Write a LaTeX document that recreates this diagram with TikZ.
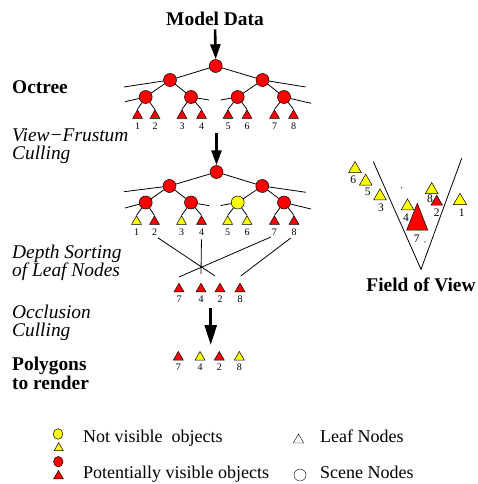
\documentclass[tikz,border=0pt]{standalone}
\usepackage{fontspec}
\setmainfont{Liberation Serif}
\usetikzlibrary{shapes.geometric,arrows.meta,backgrounds}
\definecolor{myred}{RGB}{255,0,0}
\definecolor{myyellow}{RGB}{255,255,0}
\begin{document}
\begin{tikzpicture}[x=1pt,y=-1pt,
  scn/.style={circle,draw=black,line width=0.5pt,minimum size=13pt,inner sep=0pt},
  rn/.style={scn,fill=myred},
  yn/.style={scn,fill=myyellow},
  leafbox/.style={regular polygon,regular polygon sides=3,draw=black,line width=0.5pt,inner sep=0pt,minimum size=11.5pt},
  rl/.style={leafbox,fill=myred},
  yl/.style={leafbox,fill=myyellow},
  fy/.style={leafbox,fill=myyellow,minimum size=14.6pt},
  lbl/.style={font=\fontsize{10}{11}\selectfont,inner sep=0pt},
  flbl/.style={font=\fontsize{11.5}{12}\selectfont,inner sep=0pt},
  br/.style={line width=0.8pt},
  ttl/.style={font=\fontsize{19.4}{22}\selectfont\bfseries,inner sep=0pt,anchor=base west},
  itl/.style={font=\fontsize{19.4}{22}\selectfont\itshape,inner sep=0pt,anchor=base west},
  leg/.style={font=\fontsize{18}{20}\selectfont,inner sep=0pt,anchor=base west},
  bigarrow/.style={line width=2.6pt,-{Triangle[length=15pt,width=10pt]}}
]
\useasboundingbox (0,0) rectangle (478,484);

% ---------- left labels ----------
\node[ttl] (tOct) at (12,93.3) {Octree};
\node[itl] (tVF1) at (12,141) {View−Frustum};
\node[itl] (tVF2) at (12,159.5) {Culling};
\node[itl] (tDS1) at (12,258.3) {Depth Sorting};
\node[itl] (tDS2) at (12,276.7) {of Leaf Nodes};
\node[itl] (tOC1) at (12,318.3) {Occlusion};
\node[itl] (tOC2) at (12,336) {Culling};
\node[ttl] (tPR1) at (12,370.7) {Polygons};
\node[ttl] (tPR2) at (12,389.3) {to render};

% ---------- title ----------
\node[ttl,anchor=base] (md) at (215,26) {Model Data};

% ---------- tree 1 ----------
\node[rn] (r1) at (215.7,66) {};
\node[rn] (a1) at (170,80) {};
\node[rn] (b1) at (262.5,80) {};
\node[rn] (a1l) at (145.7,97) {};
\node[rn] (a1r) at (191,97) {};
\node[rn] (b1l) at (237.7,97) {};
\node[rn] (b1r) at (284,97) {};
\foreach \i/\x in {1/137.5,2/155,3/182,4/201.5,5/228,6/247,7/274.5,8/293.5}{
  \node[rl] (t1n\i) at (\x,115.6) {};
  \node[lbl] (t1l\i) at (\x,126.5) {\i};
}
\coordinate (x1a) at (124,87);
\coordinate (x1b) at (305.7,87);
\coordinate (x1c) at (125,101.7);
\coordinate (x1d) at (209,100);
\coordinate (x1e) at (220.7,100);
\coordinate (x1f) at (311,103.3);

% ---------- tree 2 ----------
\node[rn] (r2) at (216.5,172) {};
\node[rn] (a2) at (169.5,186) {};
\node[rn] (b2) at (262.3,186) {};
\node[rn] (a2l) at (145.7,202.5) {};
\node[rn] (a2r) at (191,202.5) {};
\node[yn] (b2l) at (237.7,202.5) {};
\node[rn] (b2r) at (284,202.5) {};
\foreach \i/\x/\c in {1/136.5/yl,2/154.5/rl,3/181.5/yl,4/201.5/rl,5/227.7/yl,6/247/yl,7/274.4/rl,8/294/rl}{
  \node[\c] (t2n\i) at (\x,221.6) {};
  \node[lbl] (t2l\i) at (\x,232) {\i};
}
\coordinate (x2a) at (124,191.7);
\coordinate (x2b) at (306,192.3);
\coordinate (x2c) at (125,208);
\coordinate (x2d) at (209.3,205.7);
\coordinate (x2e) at (220.7,205.5);
\coordinate (x2f) at (311,209);

\begin{scope}[on background layer]
  \draw[br] (r1) -- (a1);  \draw[br] (r1) -- (b1);
  \draw[br] (a1) -- (a1l); \draw[br] (a1) -- (a1r);
  \draw[br] (b1) -- (b1l); \draw[br] (b1) -- (b1r);
  \draw[br] (a1) -- (x1a); \draw[br] (b1) -- (x1b);
  \draw[br] (a1l) -- (x1c); \draw[br] (a1r) -- (x1d);
  \draw[br] (b1l) -- (x1e); \draw[br] (b1r) -- (x1f);
  \draw[br] (a1l) -- (t1n1.corner 1); \draw[br] (a1l) -- (t1n2.corner 1);
  \draw[br] (a1r) -- (t1n3.corner 1); \draw[br] (a1r) -- (t1n4.corner 1);
  \draw[br] (b1l) -- (t1n5.corner 1); \draw[br] (b1l) -- (t1n6.corner 1);
  \draw[br] (b1r) -- (t1n7.corner 1); \draw[br] (b1r) -- (t1n8.corner 1);

  \draw[br] (r2) -- (a2);  \draw[br] (r2) -- (b2);
  \draw[br] (a2) -- (a2l); \draw[br] (a2) -- (a2r);
  \draw[br] (b2) -- (b2l); \draw[br] (b2) -- (b2r);
  \draw[br] (a2) -- (x2a); \draw[br] (b2) -- (x2b);
  \draw[br] (a2l) -- (x2c); \draw[br] (a2r) -- (x2d);
  \draw[br] (b2l) -- (x2e); \draw[br] (b2r) -- (x2f);
  \draw[br] (a2l) -- (t2n1.corner 1); \draw[br] (a2l) -- (t2n2.corner 1);
  \draw[br] (a2r) -- (t2n3.corner 1); \draw[br] (a2r) -- (t2n4.corner 1);
  \draw[br] (b2l) -- (t2n5.corner 1); \draw[br] (b2l) -- (t2n6.corner 1);
  \draw[br] (b2r) -- (t2n7.corner 1); \draw[br] (b2r) -- (t2n8.corner 1);
\end{scope}

% ---------- arrows ----------
\draw[bigarrow,shorten <=3pt] (md.south) -- (r1.north);
\coordinate (a2s) at (216.5,133);
\draw[bigarrow] (a2s) -- (r2.north);

% ---------- sorted row ----------
\foreach \n/\x in {7/179,4/201,2/220,8/240}{
  \node[rl] (s\n) at (\x,289) {};
  \node[lbl] (sl\n) at (\x,299.5) {\n};
}
\coordinate (e2) at (215,276);
\coordinate (e4) at (201,274);
\coordinate (e7) at (179,277);
\coordinate (e8) at (240.7,276);
\draw[br,shorten <=4pt] (t2l2.south) -- (e2);
\draw[br,shorten <=4pt] (t2l4.south) -- (e4);
\draw[br,shorten <=4pt] (t2l7.south) -- (e7);
\draw[br,shorten <=4pt] (t2l8.south) -- (e8);

\coordinate (a3s) at (210.7,308);
\coordinate (a3e) at (210.7,345);
\draw[line width=2.8pt,-{Triangle[length=20pt,width=12pt]}] (a3s) -- (a3e);

% ---------- final row ----------
\foreach \n/\x/\c in {7/178.3/rl,4/200/yl,2/219.3/rl,8/239.3/yl}{
  \node[\c] (p\n) at (\x,357.2) {};
  \node[lbl] (pl\n) at (\x,367) {\n};
}

% ---------- field of view ----------
\coordinate (vl) at (373.3,161.7);
\coordinate (vr) at (461.7,158.3);
\coordinate (va) at (421,269.3);
\draw[br] (vl) -- (va) -- (vr);
\node[fy] (f6) at (355,168.9) {};
\node[fy] (f5) at (365.7,181.5) {};
\node[fy] (f3) at (380,196.2) {};
\node[fy] (f4) at (407.5,206.2) {};
\node[fy] (f8) at (431.7,189.9) {};
\node[fy,fill=myred,minimum size=13.2pt] (f2) at (436.7,201.8) {};
\node[fy,minimum size=15.2pt] (f1) at (460,200.8) {};
\draw[fill=myred,line width=0.5pt] (417.3,203.3) -- (406.7,230) -- (427.7,230) -- cycle;
\fill (401.7,187.7) circle (0.6pt);
\fill (425,241.7) circle (0.6pt);
\node[flbl] at (353.3,179.3) {6};
\node[flbl] at (367.7,191.7) {5};
\node[flbl] at (381,207.7) {3};
\node[flbl] at (406,217.7) {4};
\node[flbl] at (416.7,238.3) {7};
\node[flbl] at (430,198.3) {8};
\node[flbl] at (436.7,212.3) {2};
\node[flbl] at (461.7,212.7) {1};
\node[ttl,anchor=base] (fov) at (421,291) {Field of View};

% ---------- legend ----------
\node[ellipse,draw=black,line width=0.5pt,fill=myyellow,minimum width=9.5pt,minimum height=10.5pt,inner sep=0pt] (ly) at (58,434) {};
\node[yl,minimum size=10.5pt] (lyt) at (58.7,448) {};
\node[ellipse,draw=black,line width=0.5pt,fill=myred,minimum width=9.5pt,minimum height=10.5pt,inner sep=0pt] (lr) at (58.3,461.7) {};
\node[rl,minimum size=11pt] (lrt) at (58.5,476) {};
\node[leg] (lt1) at (83,442.3) {Not visible\ \ objects};
\node[leg] (lt2) at (83,478.3) {Potentially visible objects};
\node[leafbox,fill=none,line width=0.4pt,minimum size=12pt] (lleaf) at (298.5,440) {};
\node[circle,draw=black,line width=0.4pt,minimum size=12pt,inner sep=0pt] (lscene) at (300,475) {};
\node[leg] (lt3) at (320,442.3) {Leaf Nodes};
\node[leg] (lt4) at (320,478.3) {Scene Nodes};
\end{tikzpicture}
\end{document}
